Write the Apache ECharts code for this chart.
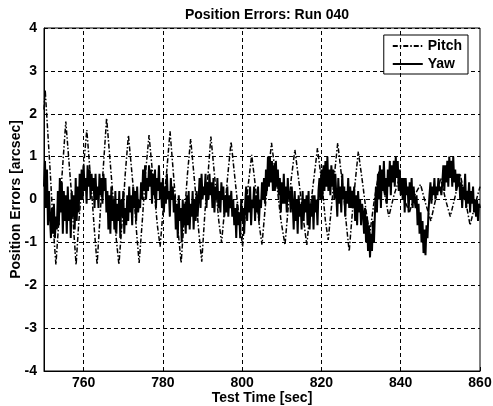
<!DOCTYPE html>
<html><head><meta charset="utf-8">
<script src="https://cdn.jsdelivr.net/npm/echarts@6/dist/echarts.min.js"></script>
<style>html,body{margin:0;padding:0;background:#fff}#c{width:493px;height:406px}</style>
</head><body><div id="c"></div>
<script>
// Axis ticks
const xTicks = [760, 780, 800, 820, 840, 860];
const yTicks = [-4, -3, -2, -1, 0, 1, 2, 3, 4];

// Pitch: read times [sec] and values [arcsec]
const pitchTime = [750.0,750.3,751.6,752.3,753.0,753.6,754.5,755.5,756.8,757.4,758.1,758.8,759.8,760.8,762.0,762.7,763.4,764.2,765.0,765.8,767.2,768.1,768.9,769.8,770.5,771.3,772.6,773.3,774.0,774.8,775.6,776.5,777.8,778.6,779.3,780.0,781.0,781.8,783.0,783.8,784.6,785.4,786.2,787.0,788.3,789.0,789.8,790.6,791.4,792.1,793.4,794.1,794.8,795.6,796.4,797.2,798.5,799.3,800.1,800.8,801.6,802.4,803.6,804.3,805.0,805.8,806.6,807.4,808.8,809.8,810.8,811.6,812.4,813.3,814.6,815.5,816.3,817.2,818.1,819.0,820.3,821.0,821.7,822.5,823.3,824.1,825.5,826.3,827.0,827.8,828.5,829.3,830.5,831.3,832.2,833.2,834.5,835.8,837.0,838.3,839.7,840.9,842.2,843.5,845.0,846.3,847.6,848.8,850.1,851.3,852.5,853.8,855.0,856.3,857.5,858.8,860.0];
const pitchValues = [2.1,2.55,0.6,-0.6,-1.52,-0.7,0.5,1.82,0.3,-0.6,-1.52,-0.5,0.6,1.62,0.2,-0.7,-1.52,-0.3,0.8,1.9,0.3,-0.8,-1.52,-0.4,0.6,1.5,0.2,-0.7,-1.48,-0.5,0.6,1.5,0.2,-0.6,-1.1,-0.3,0.7,1.59,0.2,-0.7,-1.48,-0.4,0.6,1.41,0.1,-0.7,-1.45,-0.3,0.6,1.47,0.2,-0.5,-1.0,-0.2,0.6,1.35,0.2,-0.5,-1.1,-0.3,0.4,1.04,0.1,-0.6,-1.05,-0.2,0.6,1.32,0.3,-0.5,-1.06,-0.2,0.5,1.16,0.2,-0.5,-1.06,-0.2,0.5,1.2,0.2,-0.5,-0.94,-0.2,0.6,1.32,0.2,-0.6,-1.21,-0.3,0.4,1.12,0.3,-0.3,-0.8,-0.1,0.65,0.2,-0.4,0.1,0.5,0.0,-0.3,0.1,0.35,-0.1,-0.5,0.0,0.5,0.0,-0.4,0.1,0.6,0.0,-0.6,-0.1,0.3];

// Yaw: samples every 0.25 s starting at 750 s
const yawStart = 750;
const yawStep = 0.25;
const yawValues = [
0.3,0.9,-0.2,0.7,-0.6,0.2,
-0.4,-0.9,-0.2,-0.8,-0.1,-0.9,-0.4,-0.7,
0.2,-0.6,0.5,-0.3,0.4,-0.8,0.2,-0.5,
0.1,-0.8,0.3,-0.5,0.0,-0.9,0.2,-0.4,0.1,-0.7,
0.5,-0.5,0.3,-0.3,0.6,0.0,
0.7,0.0,0.8,0.2,0.5,-0.1,0.8,0.3,0.7,0.0,0.6,0.2,
0.5,-0.2,0.6,0.0,0.3,-0.2,0.6,0.1,0.5,-0.1,0.6,0.2,
0.5,-0.3,0.2,-0.7,0.1,-0.8,0.3,-0.5,0.0,-0.7,
0.2,-0.8,-0.1,-0.5,0.2,-0.9,0.0,-0.4,0.2,-0.8,-0.2,-0.6,0.1,
-0.5,0.3,-0.3,0.1,-0.6,0.3,-0.2,0.2,-0.5,0.3,-0.3,0.0,-0.2,0.4,
0.0,0.7,0.2,0.8,0.0,0.5,0.2,0.8,0.3,0.7,-0.1,0.6,
0.1,0.7,-0.2,0.5,0.2,0.8,0.0,0.4,-0.2,
0.5,-0.3,0.3,-0.1,0.6,0.0,0.2,-0.4,0.5,0.0,0.3,-0.3,
0.1,-0.7,-0.1,-0.9,0.1,-0.5,-0.2,-1.0,0.0,-0.6,-0.1,-0.8,
0.1,-0.6,0.2,-0.7,-0.1,-0.4,0.2,-0.7,0.0,-0.5,0.2,-0.4,0.0,
0.5,-0.2,0.6,0.0,0.3,0.1,0.6,-0.2,0.4,0.0,0.6,0.1,
0.4,-0.2,0.5,-0.3,0.3,0.0,0.5,-0.2,0.2,-0.3,0.4,0.0,
0.3,-0.4,0.1,-0.3,0.3,-0.4,0.1,-0.2,0.2,-0.4,
0.0,-0.6,-0.2,-0.9,-0.1,-0.6,-0.3,-0.9,0.0,-0.5,-0.2,-0.8,-0.1,
0.3,-0.5,0.1,-0.3,0.3,-0.6,0.0,-0.2,0.3,-0.5,0.1,-0.3,0.3,-0.5,0.0,-0.2,0.4,0.0,
0.5,-0.1,0.7,0.2,1.0,0.3,1.0,0.4,0.9,0.2,0.8,0.2,0.9,0.3,0.7,0.1,
0.5,-0.3,0.4,-0.1,0.6,-0.1,0.3,-0.3,0.5,0.0,0.2,-0.3,0.3,
-0.1,-0.7,0.2,-0.5,0.0,-0.8,0.1,-0.4,-0.1,-0.7,0.2,-0.5,0.0,-0.3,
0.1,-0.6,0.2,-0.7,-0.1,-0.4,0.1,-0.7,0.1,-0.3,0.0,-0.6,0.2,
0.5,0.0,0.7,0.0,0.8,0.2,0.9,0.3,1.0,0.2,0.7,0.1,0.8,0.3,0.7,0.0,0.6,
0.1,-0.4,0.5,-0.1,0.3,-0.3,0.6,0.0,0.3,-0.4,0.2,-0.1,0.5,-0.2,0.3,-0.2,0.2,
-0.2,0.3,-0.5,0.1,-0.6,0.2,-0.3,0.0,-0.6,-0.1,
-0.3,-0.8,-0.2,-1.0,-0.4,-1.2,-0.6,-1.35,-0.8,-1.2,-0.5,-1.0,-0.3,
0.3,-0.3,0.6,0.0,0.8,-0.2,0.7,0.2,0.9,0.1,0.5,-0.1,0.7,
0.3,0.9,0.1,0.8,0.4,0.9,0.3,1.0,0.5,0.9,0.2,0.7,0.1,0.5,
0.0,0.5,-0.3,0.5,0.1,0.3,-0.3,0.4,0.0,0.5,-0.2,0.3,0.0,
-0.2,0.1,-0.6,-0.1,-0.8,-0.3,-1.0,-0.5,-1.25,-0.7,-1.3,-0.6,-0.9,-0.3,
0.1,0.4,-0.1,0.3,0.1,0.5,0.0,0.3,0.1,0.5,0.2,0.3,0.1,
0.4,0.8,0.2,0.8,0.4,0.9,0.3,1.0,0.5,0.9,0.3,1.0,0.4,0.7,0.2,0.6,0.3,
0.6,0.0,0.4,-0.2,0.3,0.0,0.6,-0.2,0.2,-0.1,0.4,-0.3,0.2,-0.1,0.3,-0.3,0.0,
-0.4,0.0,-0.5,-0.1,-0.2
];

const pitchData = pitchTime.map((t, i) => [t, pitchValues[i]]);
const yawData = yawValues.map((v, i) => [yawStart + i * yawStep, v]);

const FONT = '"Liberation Sans", Arial, Helvetica, sans-serif';
const chart = echarts.init(document.getElementById('c'), null, {renderer: 'canvas'});
const gridLine = {show: true, lineStyle: {color: '#000', width: 1, type: [4, 3]}};
chart.setOption({
  backgroundColor: '#fff',
  animation: false,
  title: {
    text: 'Position Errors: Run 040', left: 262, top: 3, textAlign: 'center',
    textStyle: {fontFamily: FONT, fontWeight: 'bold', fontSize: 14, color: '#000'}
  },
  legend: {
    right: 25, top: 35, orient: 'vertical',
    backgroundColor: '#fff', borderColor: '#000', borderWidth: 1,
    padding: [4, 6, 3, 8], itemGap: 4, itemWidth: 30, itemHeight: 14,
    itemStyle: {opacity: 0},
    textStyle: {fontFamily: FONT, fontWeight: 'bold', fontSize: 14, color: '#000'},
    data: ['Pitch', 'Yaw']
  },
  grid: {left: 44, right: 13, top: 28, bottom: 35, containLabel: false, outerBoundsMode: 'none',
    show: true, borderColor: '#000', borderWidth: 1},
  xAxis: {
    type: 'value', min: 750, max: 860, interval: 10,
    name: 'Test Time [sec]', nameLocation: 'middle', nameGap: 20, nameMoveOverlap: false,
    nameTextStyle: {fontFamily: FONT, fontWeight: 'bold', fontSize: 14, color: '#000'},
    axisLine: {show: true, onZero: false, lineStyle: {color: '#000'}},
    axisTick: {show: true, inside: true, length: 4, lineStyle: {color: '#000'},
      customValues: xTicks},
    axisLabel: {fontFamily: FONT, fontWeight: 'bold', fontSize: 14, color: '#000', margin: 5,
      customValues: xTicks},
    splitLine: {show: false}
  },
  yAxis: {
    type: 'value', min: -4, max: 4, interval: 1,
    name: 'Position Errors [arcsec]', nameLocation: 'middle', nameGap: 21, nameMoveOverlap: false,
    nameTextStyle: {fontFamily: FONT, fontWeight: 'bold', fontSize: 14, color: '#000'},
    axisLine: {show: true, lineStyle: {color: '#000'}},
    axisTick: {show: true, inside: true, length: 4, lineStyle: {color: '#000'}},
    axisLabel: {fontFamily: FONT, fontWeight: 'bold', fontSize: 14, color: '#000', margin: 7,
      customValues: yTicks},
    splitLine: gridLine
  },
  series: [
    {
      name: 'Pitch', type: 'line', data: pitchData, symbol: 'none', z: 3,
      color: '#000',
      lineStyle: {color: '#000', width: 1.5, type: [5, 2, 1.5, 2]},
      markLine: {
        silent: true, symbol: 'none', label: {show: false},
        lineStyle: {color: '#000', width: 1, type: [4, 3]},
        data: xTicks.filter(v => v < 860).map(v => ({xAxis: v}))
      }
    },
    {
      name: 'Yaw', type: 'line', data: yawData, symbol: 'none', z: 4,
      color: '#000',
      lineStyle: {color: '#000', width: 2, type: 'solid'}
    }
  ]
});
</script></body></html>
